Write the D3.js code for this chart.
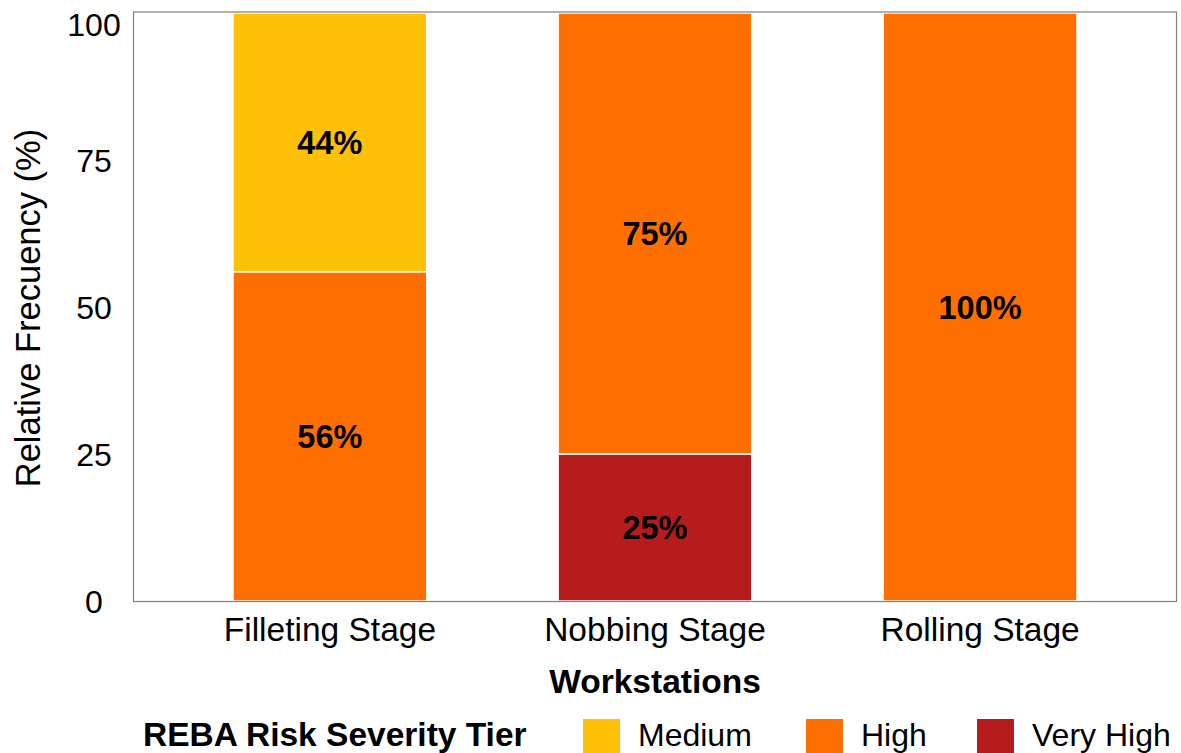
<!DOCTYPE html>
<html>
<head>
<meta charset="utf-8">
<script src="https://cdn.jsdelivr.net/npm/d3@7"></script>
<style>
  html, body { margin: 0; padding: 0; background: #fff; overflow: hidden; }
  svg { display: block; font-family: "Liberation Sans", Arial, Helvetica, sans-serif; }
</style>
</head>
<body>
<svg id="chart" width="1181" height="753"></svg>
<script>
// Workstations and REBA risk tier shares (%)
const workstations = ["Filleting Stage", "Nobbing Stage", "Rolling Stage"];
const veryHigh = [0, 25, 0];
const high = [56, 75, 100];
const medium = [44, 0, 0];
const tiers = ["Very High", "High", "Medium"];       // stacking order, bottom to top
const legendOrder = ["Medium", "High", "Very High"];
const tierColors = ["#B71C1C", "#FF6F00", "#FFC107"];
const yTicks = [0, 25, 50, 75, 100];

const rows = workstations.map((w, i) => ({
  station: w, "Very High": veryHigh[i], "High": high[i], "Medium": medium[i]
}));

const svg = d3.select("#chart");
const panel = { left: 133.5, right: 1176.5, top: 12, bottom: 601.5 };

const x = d3.scaleBand()
  .domain(workstations)
  .range([panel.left, panel.right])
  .paddingInner(0.404)
  .paddingOuter(0.306);

const y = d3.scaleLinear().domain([0, 100]).range([601, 13]);

const color = d3.scaleOrdinal().domain(tiers).range(tierColors);

const series = d3.stack().keys(tiers)(rows);

// stacked bars
const layers = svg.append("g").selectAll("g")
  .data(series)
  .join("g")
  .attr("fill", d => color(d.key));

layers.selectAll("rect")
  .data(d => d.filter(s => s[1] - s[0] > 0))
  .join("rect")
  .attr("x", d => x(d.data.station))
  .attr("width", x.bandwidth())
  .attr("y", d => y(d[1]))
  .attr("height", d => y(d[0]) - y(d[1]))
  .attr("stroke", "#ffffff")
  .attr("stroke-width", 1.5);

// value labels centred in each segment
layers.selectAll("text")
  .data(d => d.filter(s => s[1] - s[0] > 0))
  .join("text")
  .attr("x", d => x(d.data.station) + x.bandwidth() / 2)
  .attr("y", d => y((d[0] + d[1]) / 2))
  .attr("dy", "0.36em")
  .attr("text-anchor", "middle")
  .attr("font-size", 32.5)
  .attr("font-weight", "bold")
  .attr("fill", "#000")
  .text(d => (d[1] - d[0]) + "%");

// panel border
svg.append("rect")
  .attr("x", panel.left)
  .attr("y", panel.top)
  .attr("width", panel.right - panel.left)
  .attr("height", panel.bottom - panel.top)
  .attr("fill", "none")
  .attr("stroke", "#7f7f7f")
  .attr("stroke-width", 1.2);

// y axis labels (no tick marks), centred in their column
const yAxis = d3.axisLeft(y).tickValues(yTicks).tickSize(0).tickPadding(0);
const yg = svg.append("g").attr("transform", "translate(94,0)").call(yAxis);
yg.select(".domain").remove();
yg.selectAll("text")
  .attr("x", 0)
  .attr("text-anchor", "middle")
  .attr("font-size", 32)
  .attr("fill", "#000")
  .attr("font-family", null)
  .attr("dy", "0.36em")
  .attr("transform", d => y(d) < 24 ? `translate(0,${24 - y(d)})` : null);

// x axis labels
const xAxis = d3.axisBottom(x).tickSize(0).tickPadding(0);
const xg = svg.append("g").attr("transform", "translate(0,641)").call(xAxis);
xg.select(".domain").remove();
xg.selectAll("text")
  .attr("y", 0)
  .attr("dy", 0)
  .attr("font-size", 33.5)
  .attr("font-family", null)
  .attr("fill", "#000");

// axis titles
svg.append("text")
  .attr("x", 655)
  .attr("y", 693)
  .attr("text-anchor", "middle")
  .attr("font-size", 33.5)
  .attr("font-weight", "bold")
  .text("Workstations");

svg.append("text")
  .attr("transform", "translate(40,308) rotate(-90)")
  .attr("text-anchor", "middle")
  .attr("font-size", 34.5)
  .text("Relative Frecuency (%)");

// legend
const legend = svg.append("g");
legend.append("text")
  .attr("x", 143)
  .attr("y", 746)
  .attr("font-size", 33.5)
  .attr("font-weight", "bold")
  .text("REBA Risk Severity Tier");

const keyX = { "Medium": 583, "High": 806, "Very High": 977 };
const items = legend.selectAll("g.item")
  .data(legendOrder)
  .join("g")
  .attr("class", "item")
  .attr("transform", d => `translate(${keyX[d]},719)`);

items.append("rect")
  .attr("width", 37)
  .attr("height", 37)
  .attr("fill", d => color(d));

items.append("text")
  .attr("x", 55)
  .attr("y", 27)
  .attr("font-size", 32)
  .text(d => d);
</script>
</body>
</html>
